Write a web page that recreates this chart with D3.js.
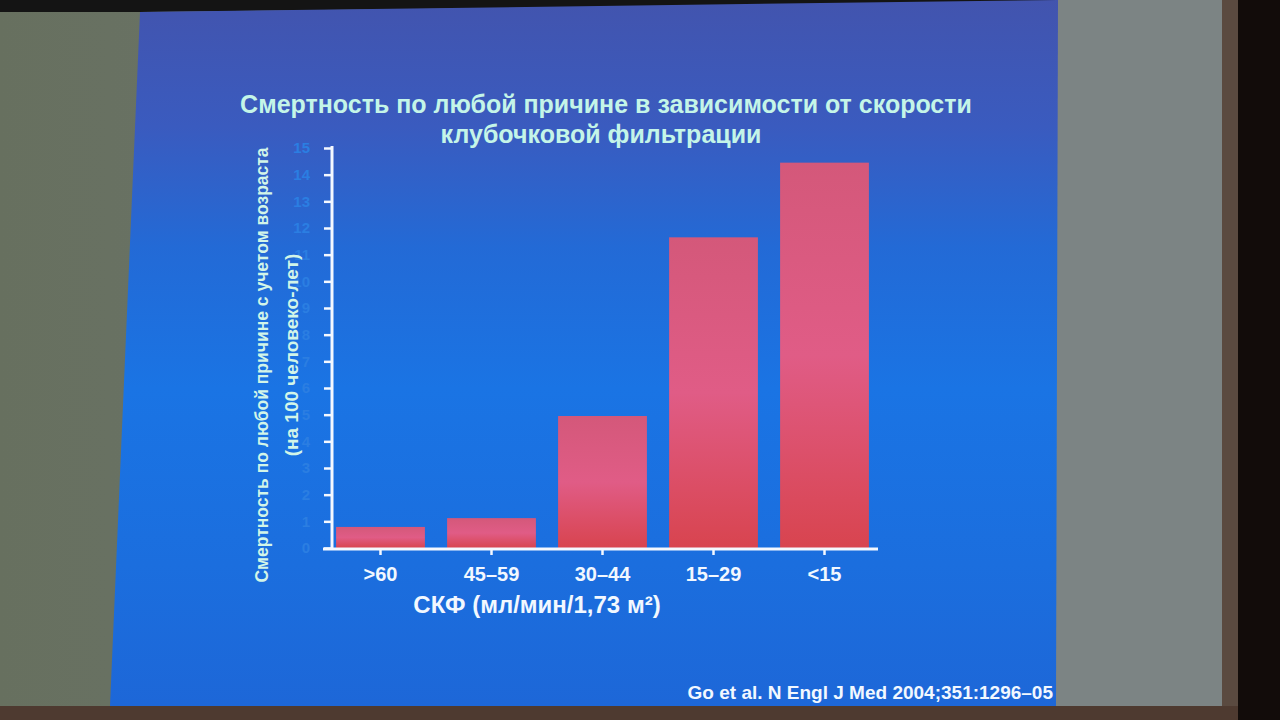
<!DOCTYPE html>
<html><head><meta charset="utf-8">
<script src="https://cdn.jsdelivr.net/npm/d3@7"></script>
<style>html,body{margin:0;padding:0;background:#5f665e;overflow:hidden}svg{display:block}</style>
</head><body>
<svg id="c" width="1280" height="720"></svg>
<script>
const categories = [">60", "45–59", "30–44", "15–29", "<15"];
const values = [0.79, 1.12, 4.95, 11.65, 14.45];
const yTicks = [0,1,2,3,4,5,6,7,8,9,10,11,12,13,14,15];
const titleLines = ["Смертность по любой причине в зависимости от скорости", "клубочковой фильтрации"];
const yTitleLines = ["Смертность по любой причине с учетом возраста", "(на 100 человеко-лет)"];
const xTitle = "СКФ (мл/мин/1,73 м²)";
const citation = "Go et al. N Engl J Med 2004;351:1296–05";

const svg = d3.select("#c");
const defs = svg.append("defs");
const font = "Liberation Sans, Arial, sans-serif";

// wall / room background
const wall = defs.append("linearGradient").attr("id","wall").attr("x1",0).attr("x2",1).attr("y1",0).attr("y2",0);
wall.append("stop").attr("offset",0).attr("stop-color","#67705f");
wall.append("stop").attr("offset",0.5).attr("stop-color","#6d7670");
wall.append("stop").attr("offset",1).attr("stop-color","#7b8484");
svg.append("rect").attr("width",1280).attr("height",720).attr("fill","url(#wall)");
svg.append("rect").attr("x",1056).attr("width",170).attr("height",720).attr("fill","#7c8484");
svg.append("rect").attr("x",1222).attr("width",16).attr("height",720).attr("fill","#5a4a40");
svg.append("rect").attr("x",1238).attr("width",42).attr("height",720).attr("fill","#120c0a");
svg.append("path").attr("d","M0,0 H1058 L1058,2 L140,12 H0 Z").attr("fill","#141414");
svg.append("rect").attr("x",0).attr("y",706).attr("width",1238).attr("height",14).attr("fill","#4e3a30");

// slide
const sg = defs.append("linearGradient").attr("id","slide").attr("x1",0).attr("x2",0).attr("y1",0).attr("y2",1);
[[0,"#4254ae"],[0.18,"#3a5bbf"],[0.35,"#236ad6"],[0.55,"#1a74e4"],[0.8,"#1b6ede"],[1,"#1d67d8"]]
  .forEach(([o,c]) => sg.append("stop").attr("offset",o).attr("stop-color",c));
svg.append("path").attr("d","M140,12 L1058,0 L1056,706 L110,706 Z").attr("fill","url(#slide)");

// bar gradient
const bg = defs.append("linearGradient").attr("id","bar").attr("x1",0).attr("x2",0).attr("y1",0).attr("y2",1);
bg.append("stop").attr("offset",0).attr("stop-color","#d4587a");
bg.append("stop").attr("offset",0.5).attr("stop-color","#e05c86");
bg.append("stop").attr("offset",1).attr("stop-color","#d8444f");

const x = d3.scaleBand().domain(categories).range([325, 880]).paddingInner(0.2).paddingOuter(0.1);
const y = d3.scaleLinear().domain([0, 15]).range([548, 148]);

// bars
svg.append("g").selectAll("rect").data(values).join("rect")
  .attr("x",(d,i)=>x(categories[i]))
  .attr("width",x.bandwidth())
  .attr("y",d=>y(d))
  .attr("height",d=>y(0)-y(d))
  .attr("fill","url(#bar)");

// y axis
const yAxis = svg.append("g").attr("transform","translate(332,0)")
  .call(d3.axisLeft(y).tickValues(yTicks).tickSize(8).tickPadding(14).tickFormat(d3.format("d")));
yAxis.select(".domain").attr("stroke","#f4f8ff").attr("stroke-width",3).attr("d","M0,146V549");
yAxis.selectAll(".tick line").attr("stroke","#f4f8ff").attr("stroke-width",2.5);
yAxis.selectAll(".tick text").attr("fill","#2b7ee2").attr("font-family",font)
  .attr("font-weight","bold").attr("font-size",15);

// x axis
const xAxis = svg.append("g").attr("transform","translate(0,549)")
  .call(d3.axisBottom(x).tickSize(6).tickPadding(12));
xAxis.select(".domain").attr("stroke","#f4f8ff").attr("stroke-width",3).attr("d","M323,0H878");
xAxis.selectAll(".tick line").attr("stroke","#f4f8ff").attr("stroke-width",2.5);
xAxis.selectAll(".tick text").attr("fill","#f2f8ff").attr("font-family",font)
  .attr("font-weight","bold").attr("font-size",20);

// title
svg.append("g").selectAll("text").data(titleLines).join("text")
  .attr("x",(d,i)=> i===0 ? 606 : 601).attr("y",(d,i)=>113+i*30)
  .attr("text-anchor","middle").attr("font-family",font).attr("font-weight","bold")
  .attr("font-size",25).attr("fill","#c4f5e8").text(d=>d);

// y title
svg.append("g").selectAll("text").data(yTitleLines).join("text")
  .attr("transform",(d,i)=>`translate(${268+i*30},${i===0?365:355}) rotate(-90)`)
  .attr("text-anchor","middle").attr("font-family",font).attr("font-weight","bold")
  .attr("font-size",(d,i)=> i===0 ? 17.5 : 19).attr("fill","#d2f5e8").text(d=>d);

// x title
svg.append("text").attr("x",537).attr("y",613).attr("text-anchor","middle")
  .attr("font-family",font).attr("font-weight","bold").attr("font-size",24)
  .attr("fill","#f2f8ff").text(xTitle);

// citation
svg.append("text").attr("x",1053).attr("y",699).attr("text-anchor","end")
  .attr("font-family",font).attr("font-weight","bold").attr("font-size",19)
  .attr("fill","#f2f8ff").text(citation);
</script>
</body></html>
